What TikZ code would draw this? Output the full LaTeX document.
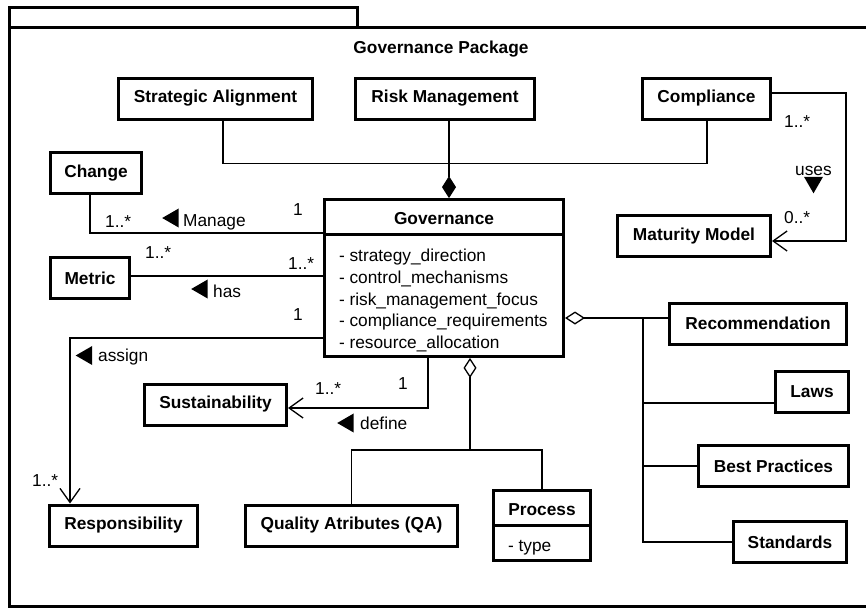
\documentclass[tikz,border=0pt]{standalone}
\usepackage{fontspec}
\setmainfont{Liberation Sans}
\usetikzlibrary{arrows.meta, shapes.multipart, shapes.geometric, positioning}
\newcommand{\txt}{\fontsize{17.3pt}{21.7pt}\selectfont}

\begin{document}
\begin{tikzpicture}[x=1pt, y=-1pt, every node/.style={font=\txt},
    box/.style={draw, line width=3pt, inner sep=0pt, minimum height=41pt, font=\txt\bfseries},
    cls/.style={draw, line width=3pt, rectangle split, rectangle split parts=2,
        rectangle split part align={center,left}, inner xsep=14.5pt, inner ysep=0pt},
    link/.style={line width=1.3pt},
    navig/.style={-{Straight Barb[length=14pt, width=20pt]}},
    agg/.style={{Diamond[open, length=20pt, width=13pt]}-},
    comp/.style={{Diamond[length=22pt, width=14pt]}-},
    lbl/.style={anchor=base west, inner sep=0pt},
    tri/.style={regular polygon, regular polygon sides=3, fill, inner sep=0pt, minimum size=22pt}]
    \useasboundingbox (0,0) rectangle (866,608);
    \clip (0,0) rectangle (866,608);

    % package frame
    \draw[line width=3pt] (9,7) rectangle (357.5,27.5);
    \draw[line width=3pt] (9,27.5) rectangle (880,606);
    \node[font=\txt\bfseries, anchor=base] (title) at (441,53) {Governance Package};

    % classes
    \node[box, minimum width=194pt] (strat) at (215.5,98.5) {Strategic Alignment};
    \node[box, minimum width=179pt] (risk) at (445,98.5) {Risk Management};
    \node[box, minimum width=128pt] (compl) at (706.5,98.5) {Compliance};
    \node[box, minimum width=153pt] (matur) at (694,236) {Maturity Model};
    \node[box, minimum width=91pt] (change) at (96,173) {Change};
    \node[box, minimum width=79pt] (metric) at (90,278) {Metric};
    \node[cls, minimum width=239pt] (gov) at (444,278) {\rule[-8pt]{0pt}{31.5pt}\textbf{Governance}
        \nodepart{second}\begin{tabular}{@{}l@{}}\rule{0pt}{26pt}- strategy\_direction\\- control\_mechanisms\\
        - risk\_management\_focus\\- compliance\_requirements\\- resource\_allocation\end{tabular}};
    \node[box, minimum width=142pt] (sust) at (215.5,404.5) {Sustainability};
    \node[box, minimum width=148pt] (resp) at (123.5,525.5) {Responsibility};
    \node[box, minimum width=212pt] (qa) at (351.5,525.5) {Quality Atributes (QA)};
    \node[cls, minimum width=97pt] (proc) at (542,525.5) {\rule[-7.7pt]{0pt}{31.5pt}\textbf{Process}
        \nodepart{second}\rule[-7.5pt]{0pt}{32.5pt}- type};
    \node[box, minimum width=177pt] (recom) at (758,323.5) {Recommendation};
    \node[box, minimum width=73pt] (laws) at (812,391.5) {Laws};
    \node[box, minimum width=150pt] (best) at (773.5,466) {Best Practices};
    \node[box, minimum width=113pt] (stds) at (790,542) {Standards};

    % composition
    \draw[link] ([xshift=7.5pt]strat.south) -- ++(0,43) -| ([xshift=0.5pt]compl.south);
    \draw[link, comp] ([xshift=5pt]gov.north) -- ([xshift=4pt]risk.south);

    % associations
    \draw[link, navig] ([yshift=5.5pt]compl.east) -- ++(74,0) |- ([yshift=-5pt]matur.east);
    \node[lbl] (mc1) at (784,127.5) {1..*};
    \node[lbl] (mc2) at (784,223) {0..*};
    \node[lbl] (uses) at (795,175) {uses};
    \node[tri, shape border rotate=180] (tuses) at (813.5,182.3) {};

    \draw[link] ([xshift=-6pt]change.south) |- ([yshift=45pt]gov.west);
    \node[lbl] (mh1) at (105,227.5) {1..*};
    \node[lbl] (mh2) at (293,215.5) {1};
    \node[tri, shape border rotate=90] (tmanage) at (173.2,218) {};
    \node[lbl] (manage) at (183,226.5) {Manage};

    \draw[link] ([yshift=2pt]metric.east) -- ([yshift=2pt]metric.east -| gov.west);
    \node[lbl] (mm1) at (145,258) {1..*};
    \node[lbl] (mm2) at (288,269) {1..*};
    \node[tri, shape border rotate=90] (thas) at (202.2,289) {};
    \node[lbl] (has) at (213,297) {has};

    \draw[link, navig] ([yshift=-60pt]gov.west) -| ([xshift=-53.5pt]resp.north);
    \node[lbl] (ma1) at (293,320.5) {1};
    \node[lbl] (ma2) at (32,486) {1..*};
    \node[tri, shape border rotate=90] (tassign) at (86.7,355.5) {};
    \node[lbl] (assign) at (98,361.5) {assign};

    \draw[link, navig] ([xshift=-16pt]gov.south) |- ([yshift=-3.5pt]sust.east);
    \node[lbl] (md1) at (398,389) {1};
    \node[lbl] (md2) at (315,394) {1..*};
    \node[tri, shape border rotate=90] (tdefine) at (348.2,423) {};
    \node[lbl] (define) at (360,429.3) {define};

    % aggregations
    \draw[link, agg] ([xshift=26pt]gov.south) -- ++(0,92) coordinate (aggb);
    \draw[link] (qa.north) |- (aggb) -| (proc.north);

    \coordinate (ga) at ([yshift=-40pt]gov.east);
    \coordinate (bus) at (643,318);
    \draw[link, agg] (ga) -- (ga -| recom.west);
    \draw[link] (bus) |- ([yshift=-11.5pt]laws.west);
    \draw[link] (bus) |- (best.west);
    \draw[link] (bus) |- (stds.west);
\end{tikzpicture}
\end{document}
